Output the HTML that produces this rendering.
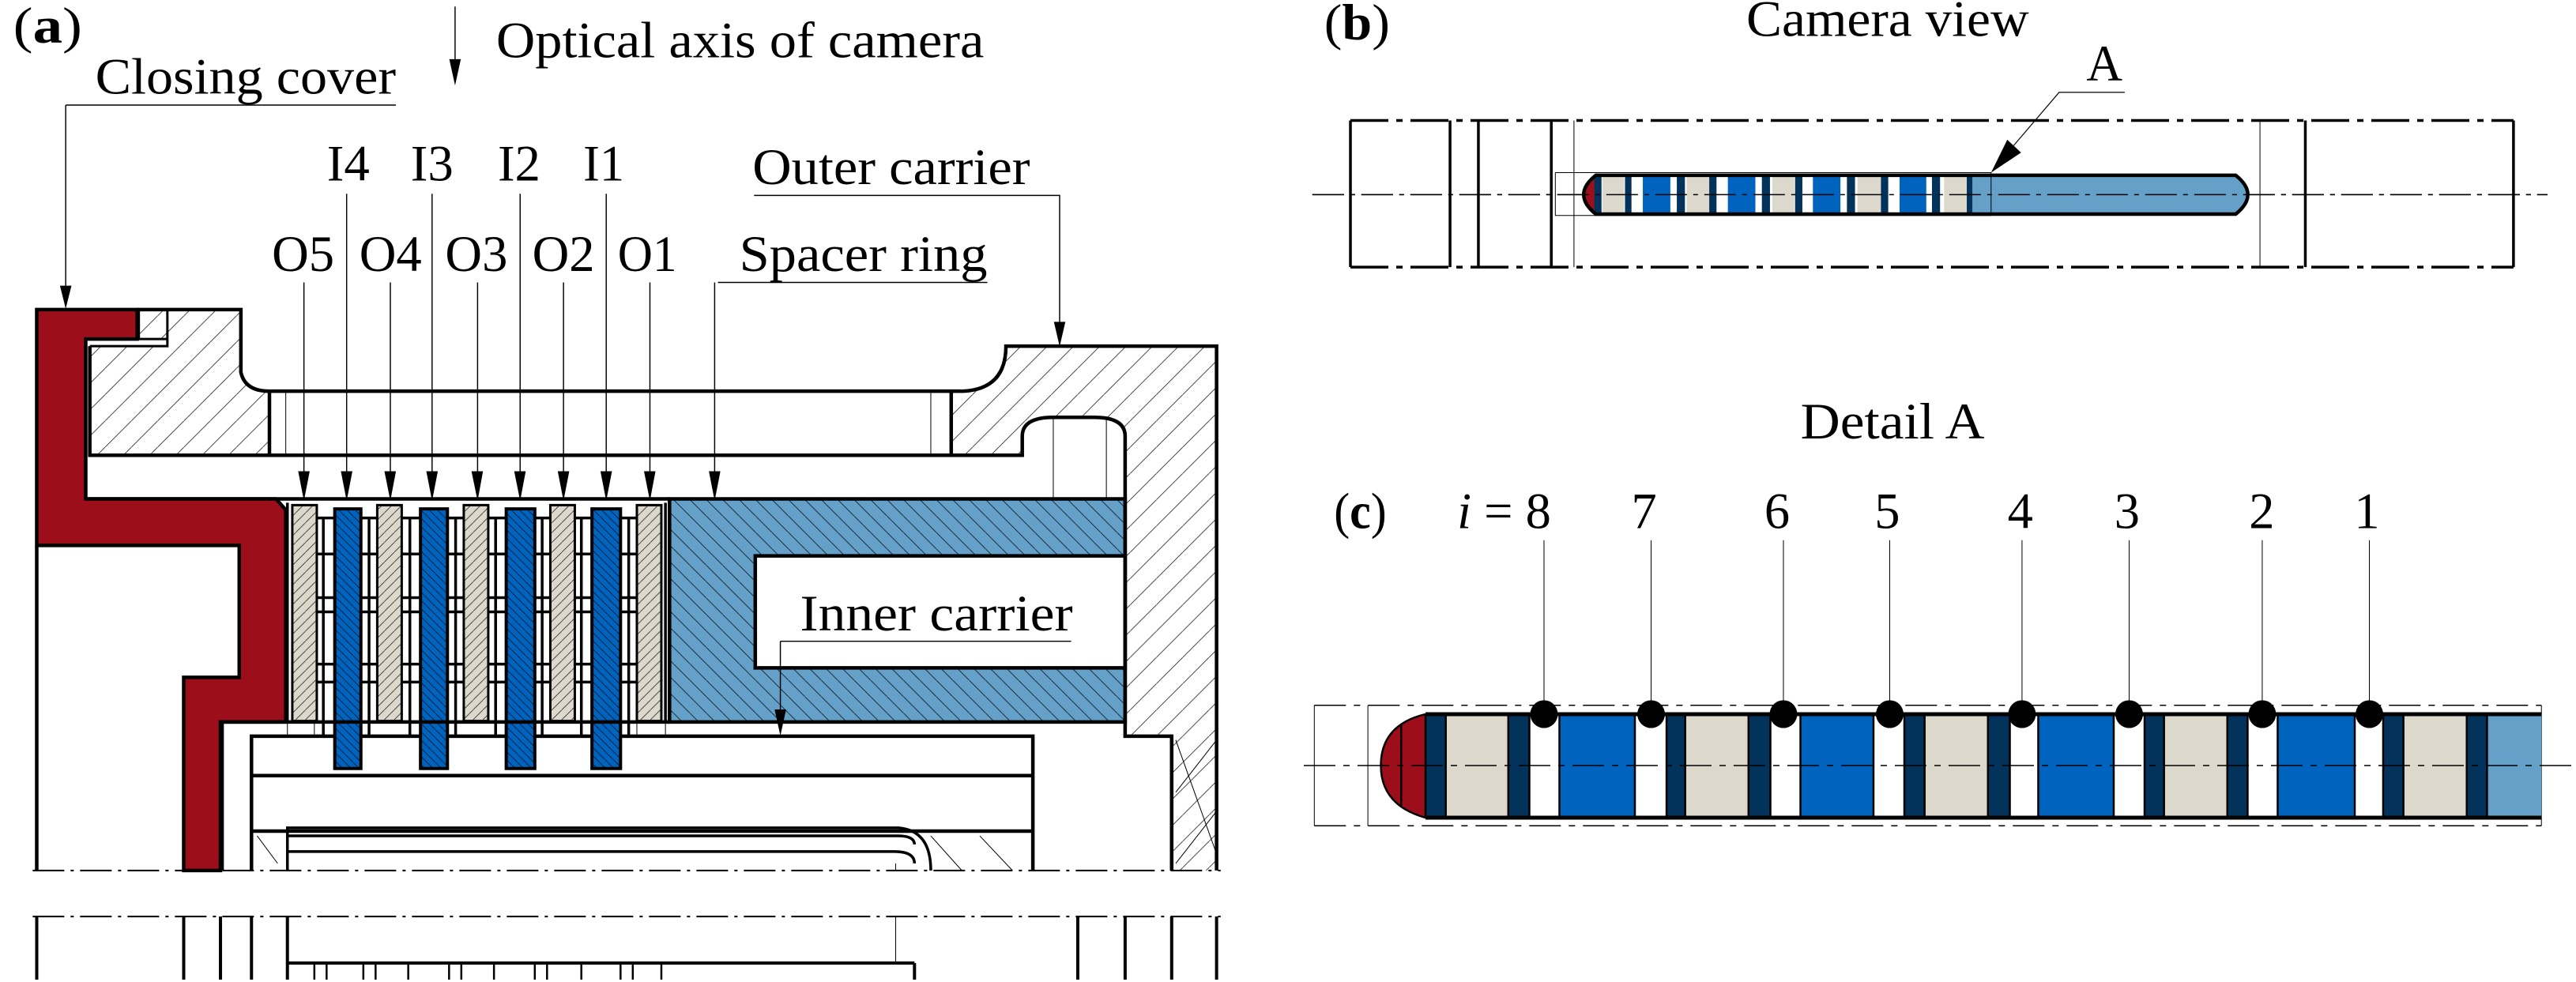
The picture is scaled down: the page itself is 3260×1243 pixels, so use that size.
<!DOCTYPE html>
<html><head><meta charset="utf-8"><style>
html,body{margin:0;padding:0;background:#fff;}
svg{display:block;}
text{font-family:"Liberation Serif",serif;fill:#000;}
</style></head><body>
<svg width="3260" height="1243" viewBox="0 0 1568 598" preserveAspectRatio="none" xmlns="http://www.w3.org/2000/svg">
<defs>
<pattern id="h1" patternUnits="userSpaceOnUse" width="16" height="16" patternTransform="scale(2.012,3.46)">
<line x1="0" y1="16" x2="16" y2="0" stroke="#000" stroke-width="0.35"/>
</pattern>
<pattern id="hb" patternUnits="userSpaceOnUse" width="10" height="10" patternTransform="scale(2.012,3.46)">
<rect width="10" height="10" fill="#64a0c8"/>
<line x1="0" y1="0" x2="10" y2="10" stroke="#000" stroke-width="0.35"/>
</pattern>
<pattern id="hd" patternUnits="userSpaceOnUse" width="5" height="5" patternTransform="scale(2.012,3.46)">
<rect width="5" height="5" fill="#0064be"/>
<line x1="0" y1="0" x2="5" y2="5" stroke="#000" stroke-width="0.3"/>
</pattern>
<pattern id="hg" patternUnits="userSpaceOnUse" width="6" height="6" patternTransform="scale(2.012,3.46)">
<rect width="6" height="6" fill="#dcd8cc"/>
<line x1="0" y1="6" x2="6" y2="0" stroke="#000" stroke-width="0.3"/>
</pattern>
<clipPath id="capb"><path d="M360,655 H1150 Q1180,727 1150,800 H360 Q330,727 360,655 Z"/></clipPath>
</defs>

<!-- ============ PANEL A (zoom1 coords) ============ -->
<g transform="translate(0,144.3) scale(0.497,0.289)" fill="none" stroke="#000">
 <g vector-effect="non-scaling-stroke">
 <!-- outer carrier hatched regions -->
 <path d="M205,153 H295 V285 Q300,325 330,325 V460 H110 V230 H205 Z" fill="url(#h1)" stroke="none"/>
 <path d="M1180,325 Q1232,320 1232,230 H1490 V1335 H1435 V1052 H1378 V420 Q1378,380 1340,380 H1290 Q1252,380 1252,420 V460 H1165 V325 Z" fill="url(#h1)" stroke="none"/>
 <!-- spacer ring -->
 <path d="M820,552 H1378 V1022 H820 Z M925,672 V908 H1378 V672 Z" fill="url(#hb)" fill-rule="evenodd" stroke="none"/>
 <path d="M820,552 H1378 V1022 H820 Z" vector-effect="non-scaling-stroke" stroke-width="4.5"/>
 <rect x="925" y="672" width="453" height="236" fill="#fff" vector-effect="non-scaling-stroke" stroke-width="4.5"/>
 <!-- outlines -->
 <path d="M168,153 H295 V285 Q300,325 330,325 H1180 Q1232,320 1232,230 H1490 V1335" vector-effect="non-scaling-stroke" stroke-width="4.5"/>
 <path d="M110,230 H205 V153 M170,153 V215 H205" vector-effect="non-scaling-stroke" stroke-width="3"/>
 <rect x="170" y="155" width="35" height="60" fill="url(#h1)" stroke="none"/>
 <path d="M110,230 V460 H1252 V420 Q1252,380 1290,380 H1340 Q1378,380 1378,420 V1052 H1435 V1335" vector-effect="non-scaling-stroke" stroke-width="4.5"/>
 <path d="M330,325 V460 M1165,325 V460" vector-effect="non-scaling-stroke" stroke-width="4.5"/>
 <path d="M350,325 V460 M1140,325 V460 M1290,380 V552 M1355,380 V552" vector-effect="non-scaling-stroke" stroke-width="1"/>
 <path d="M105,552 H820" vector-effect="non-scaling-stroke" stroke-width="4.5"/>
 <!-- red closing cover -->
 <path d="M45,153 H168 V215 H105 V552 H338 L350,575 V1022 H270 V1335 H225 V928 H293 V650 H45 Z" fill="#9b0e1a" vector-effect="non-scaling-stroke" stroke-width="4.5"/>
 <path d="M45,650 V1335" vector-effect="non-scaling-stroke" stroke-width="4.5"/>
 <!-- stack plates -->
 <g vector-effect="non-scaling-stroke" stroke-width="3">
  <path d="M352,1022 V1052 M815,1022 V1052 M385,1022 V1052 M780,1022 V1052" vector-effect="non-scaling-stroke" stroke-width="1"/>
  <rect x="358" y="565" width="30" height="455" fill="url(#hg)" vector-effect="non-scaling-stroke" stroke-width="3"/>
  <rect x="462" y="565" width="30" height="455" fill="url(#hg)" vector-effect="non-scaling-stroke" stroke-width="3"/>
  <rect x="568" y="565" width="30" height="455" fill="url(#hg)" vector-effect="non-scaling-stroke" stroke-width="3"/>
  <rect x="674" y="565" width="30" height="455" fill="url(#hg)" vector-effect="non-scaling-stroke" stroke-width="3"/>
  <rect x="780" y="565" width="30" height="455" fill="url(#hg)" vector-effect="non-scaling-stroke" stroke-width="3"/>
  <path d="M396,592 V1050 M452,592 V1050 M502,592 V1050 M558,592 V1050 M607,592 V1050 M664,592 V1050 M712,592 V1050 M770,592 V1050 M352,560 V1022 M815,560 V1022
   M388,592 H410 M442,592 H462 M492,592 H515 M548,592 H568 M598,592 H620 M655,592 H674 M704,592 H725 M760,592 H780
   M388,668 H410 M442,668 H462 M492,668 H515 M548,668 H568 M598,668 H620 M655,668 H674 M704,668 H725 M760,668 H780
   M388,760 H410 M442,760 H462 M492,760 H515 M548,760 H568 M598,760 H620 M655,760 H674 M704,760 H725 M760,760 H780
   M388,790 H410 M442,790 H462 M492,790 H515 M548,790 H568 M598,790 H620 M655,790 H674 M704,790 H725 M760,790 H780
   M388,900 H410 M442,900 H462 M492,900 H515 M548,900 H568 M598,900 H620 M655,900 H674 M704,900 H725 M760,900 H780
   M388,938 H410 M442,938 H462 M492,938 H515 M548,938 H568 M598,938 H620 M655,938 H674 M704,938 H725 M760,938 H780" vector-effect="non-scaling-stroke" stroke-width="3.5"/>
  <rect x="410" y="573" width="32" height="547" fill="url(#hd)" vector-effect="non-scaling-stroke" stroke-width="4"/>
  <rect x="515" y="573" width="33" height="547" fill="url(#hd)" vector-effect="non-scaling-stroke" stroke-width="4"/>
  <rect x="620" y="573" width="35" height="547" fill="url(#hd)" vector-effect="non-scaling-stroke" stroke-width="4"/>
  <rect x="725" y="573" width="35" height="547" fill="url(#hd)" vector-effect="non-scaling-stroke" stroke-width="4"/>
 </g>
 <!-- inner carrier / lower -->
 <path d="M272,1022 H820 M1378,1022 H1378" vector-effect="non-scaling-stroke" stroke-width="4.5"/>
 <path d="M272,1022 V1335" vector-effect="non-scaling-stroke" stroke-width="4.5"/>
 <path d="M308,1335 V1052 H410 M442,1052 H515 M548,1052 H620 M655,1052 H725 M760,1052 H1265 V1335 M308,1135 H1265 M308,1252 H1265" vector-effect="non-scaling-stroke" stroke-width="4.5"/>
 <path d="M1435,1052 V1335" vector-effect="non-scaling-stroke" stroke-width="4.5"/>
 <path d="M1440,1060 L1490,1300 M1140,1262 L1178,1335 M1200,1262 L1240,1335 M315,1262 L340,1320" vector-effect="non-scaling-stroke" stroke-width="1"/>
 <path d="M1440,1170 L1490,1060 M1440,1320 L1490,1210" vector-effect="non-scaling-stroke" stroke-width="1"/>
 <path d="M352,1335 V1245 H1100 Q1140,1250 1140,1335 M352,1262 H1100 Q1120,1262 1120,1280 M352,1295 H1095 Q1120,1295 1120,1320" vector-effect="non-scaling-stroke" stroke-width="3.5"/>
 <path d="M1097,1335 V1320" vector-effect="non-scaling-stroke" stroke-width="1"/>
 <!-- hatch in outer carrier right lower -->
 <!-- dash-dot lines -->
 <path d="M40,1335 H1495 M40,1432 H1495" vector-effect="non-scaling-stroke" stroke-width="2" stroke-dasharray="40,8,4,8"/>
 <path d="M45,1432 V1565 M225,1432 V1565 M270,1432 V1565 M308,1432 V1565 M352,1432 V1565 M1120,1530 V1565 M1320,1432 V1565 M1378,1432 V1565 M1435,1432 V1565 M1490,1432 V1565 M352,1530 H1120" vector-effect="non-scaling-stroke" stroke-width="4"/>
 <path d="M1097,1432 V1530" vector-effect="non-scaling-stroke" stroke-width="1"/>
 <path d="M385,1530 V1565 M400,1530 V1565 M445,1530 V1565 M460,1530 V1565 M500,1530 V1565 M550,1530 V1565 M565,1530 V1565 M605,1530 V1565 M655,1530 V1565 M670,1530 V1565 M712,1530 V1565 M760,1530 V1565 M775,1530 V1565 M810,1530 V1565" vector-effect="non-scaling-stroke" stroke-width="2.5"/>
 </g>
</g>

<!-- Panel A leaders & text (thumb coords) -->
<g stroke="#000" stroke-width="0.7" fill="none">
 <path d="M277,4 V44"/>
 <path d="M40,64 H241 M40,64 V176"/>
 <path d="M459,119 H645 V200"/>
 <path d="M437,172 H601 M435,172 V294"/>
 <path d="M211,118 V294 M263,118 V294 M316.6,118 V294 M369,118 V294"/>
 <path d="M185,172 V294 M237.6,172 V294 M290.7,172 V294 M343,172 V294 M395.6,172 V294"/>
 <path d="M475,390.5 H652 M475,390.5 V437"/>
</g>
<g fill="#000">
 <path d="M273.5,36 L280.5,36 L277,52 Z"/>
 <path d="M36.5,174 L43.5,174 L40,188 Z"/>
 <path d="M641.5,196 L648.5,196 L645,211 Z"/>
 <path d="M431.5,287 L438.5,287 L435,305 Z"/>
 <path d="M207.5,287 L214.5,287 L211,305 Z"/><path d="M259.5,287 L266.5,287 L263,305 Z"/><path d="M313,287 L320,287 L316.6,305 Z"/><path d="M365.5,287 L372.5,287 L369,305 Z"/>
 <path d="M181.5,287 L188.5,287 L185,305 Z"/><path d="M234,287 L241,287 L237.6,305 Z"/><path d="M287,287 L294,287 L290.7,305 Z"/><path d="M339.5,287 L346.5,287 L343,305 Z"/><path d="M392,287 L399,287 L395.6,305 Z"/>
 <path d="M471.5,432 L478.5,432 L475,448 Z"/>
</g>
<g font-size="31">
 <text x="8" y="26" textLength="42" lengthAdjust="spacingAndGlyphs">(<tspan font-weight="bold">a</tspan>)</text>
 <text x="302" y="35" textLength="297" lengthAdjust="spacingAndGlyphs">Optical axis of camera</text>
 <text x="58" y="57" textLength="183" lengthAdjust="spacingAndGlyphs">Closing cover</text>
 <text x="199" y="110" textLength="26" lengthAdjust="spacingAndGlyphs">I4</text>
 <text x="250" y="110" textLength="26" lengthAdjust="spacingAndGlyphs">I3</text>
 <text x="303" y="110" textLength="26" lengthAdjust="spacingAndGlyphs">I2</text>
 <text x="355" y="110" textLength="25" lengthAdjust="spacingAndGlyphs">I1</text>
 <text x="458" y="112" textLength="169" lengthAdjust="spacingAndGlyphs">Outer carrier</text>
 <text x="165.5" y="165" textLength="38" lengthAdjust="spacingAndGlyphs">O5</text>
 <text x="218.7" y="165" textLength="38" lengthAdjust="spacingAndGlyphs">O4</text>
 <text x="271" y="165" textLength="38" lengthAdjust="spacingAndGlyphs">O3</text>
 <text x="324" y="165" textLength="38" lengthAdjust="spacingAndGlyphs">O2</text>
 <text x="376" y="165" textLength="36" lengthAdjust="spacingAndGlyphs">O1</text>
 <text x="450" y="165" textLength="151" lengthAdjust="spacingAndGlyphs">Spacer ring</text>
 <text x="487" y="384" textLength="166" lengthAdjust="spacingAndGlyphs">Inner carrier</text>
</g>

<!-- ============ PANEL B (zoom2 coords) ============ -->
<g transform="translate(822,0) scale(0.493,0.163) translate(-57,0)" fill="none" stroke="#000">
 <path d="M57,450 H1493 M57,998 H1493" vector-effect="non-scaling-stroke" stroke-width="3.5" stroke-dasharray="48,10,8,10"/>
 <path d="M57,450 V998 M180,450 V998 M215,450 V998 M305,450 V998 M1236,450 V998 M1493,450 V998" vector-effect="non-scaling-stroke" stroke-width="3.5"/>
 <path d="M333,450 V998 M1180,450 V998" vector-effect="non-scaling-stroke" stroke-width="1"/>
 <path d="M10,727 H1535" vector-effect="non-scaling-stroke" stroke-width="1.5" stroke-dasharray="40,8,6,8"/>
 <rect x="310" y="645" width="538" height="160" vector-effect="non-scaling-stroke" stroke-width="1"/>
 <g clip-path="url(#capb)" stroke="none">
  <rect x="330" y="640" width="850" height="170" fill="#fff"/>
  <rect x="330" y="640" width="28" height="170" fill="#9b0e1a"/>
  <rect x="825" y="640" width="360" height="170" fill="#64a0c8"/>
  <rect x="368" y="640" width="27" height="170" fill="#dcd8cc"/>
  <rect x="472" y="640" width="28" height="170" fill="#dcd8cc"/>
  <rect x="578" y="640" width="27" height="170" fill="#dcd8cc"/>
  <rect x="683" y="640" width="29" height="170" fill="#dcd8cc"/>
  <rect x="790" y="640" width="28" height="170" fill="#dcd8cc"/>
  <rect x="418" y="640" width="34" height="170" fill="#0064be"/>
  <rect x="523" y="640" width="34" height="170" fill="#0064be"/>
  <rect x="628" y="640" width="34" height="170" fill="#0064be"/>
  <rect x="735" y="640" width="33" height="170" fill="#0064be"/>
  <g fill="#03325a">
   <rect x="358" y="640" width="9" height="170"/><rect x="396" y="640" width="8" height="170"/><rect x="460" y="640" width="10" height="170"/>
   <rect x="500" y="640" width="9" height="170"/><rect x="565" y="640" width="10" height="170"/><rect x="606" y="640" width="9" height="170"/>
   <rect x="670" y="640" width="10" height="170"/><rect x="712" y="640" width="9" height="170"/><rect x="775" y="640" width="10" height="170"/><rect x="818" y="640" width="7" height="170"/>
  </g>
 </g>
 <path d="M360,655 H1150 Q1180,727 1150,800 H360 Q330,727 360,655 Z" vector-effect="non-scaling-stroke" stroke-width="4.5"/>
 <path d="M848,645 V805" vector-effect="non-scaling-stroke" stroke-width="1"/>
 <path d="M10,727 H1535" vector-effect="non-scaling-stroke" stroke-width="1.5" stroke-dasharray="40,8,6,8"/>
 <path d="M860,600 L932,345 H1013" vector-effect="non-scaling-stroke" stroke-width="1.2"/>
 <path d="M848,645 L868,522 L885,570 Z" fill="#000" stroke="none"/>
</g>
<g font-size="31">
 <text x="806" y="24" textLength="40" lengthAdjust="spacingAndGlyphs">(<tspan font-weight="bold">b</tspan>)</text>
 <text x="1063" y="22" textLength="172" lengthAdjust="spacingAndGlyphs">Camera view</text>
 <text x="1270" y="49" textLength="22" lengthAdjust="spacingAndGlyphs">A</text>
 <text x="1096" y="267" textLength="112" lengthAdjust="spacingAndGlyphs">Detail A</text>
 <text x="812" y="321.5" textLength="32" lengthAdjust="spacingAndGlyphs">(<tspan font-weight="bold">c</tspan>)</text>
 <text x="887" y="321.5"><tspan font-style="italic">i</tspan> = 8</text>
 <text x="993" y="321.5">7</text>
 <text x="1074" y="321.5">6</text>
 <text x="1141" y="321.5">5</text>
 <text x="1222" y="321.5">4</text>
 <text x="1287" y="321.5">3</text>
 <text x="1369" y="321.5">2</text>
 <text x="1433" y="321.5">1</text>
</g>

<!-- ============ PANEL C (zoom3 coords) ============ -->
<g transform="translate(793.6,408.8) scale(0.494,0.163)" fill="none" stroke="#000">
 <path d="M13,127 H1525 M13,577 H1525" vector-effect="non-scaling-stroke" stroke-width="1.5" stroke-dasharray="40,10,8,10"/>
 <path d="M13,127 V577 M79,127 V577 M1525,127 V577" vector-effect="non-scaling-stroke" stroke-width="1"/>
 <g stroke="none">
  <path d="M150,160 Q95,200 95,352 Q95,500 150,547 Z" fill="#9b0e1a"/>
  <rect x="150" y="160" width="25" height="387" fill="#03325a"/>
  <rect x="175" y="160" width="77" height="387" fill="#dcd8cc"/>
  <rect x="252" y="160" width="26" height="387" fill="#03325a"/>
  <rect x="315" y="160" width="93" height="387" fill="#0064be"/>
  <rect x="447" y="160" width="23" height="387" fill="#03325a"/>
  <rect x="470" y="160" width="78" height="387" fill="#dcd8cc"/>
  <rect x="548" y="160" width="27" height="387" fill="#03325a"/>
  <rect x="612" y="160" width="90" height="387" fill="#0064be"/>
  <rect x="740" y="160" width="25" height="387" fill="#03325a"/>
  <rect x="765" y="160" width="78" height="387" fill="#dcd8cc"/>
  <rect x="843" y="160" width="27" height="387" fill="#03325a"/>
  <rect x="905" y="160" width="93" height="387" fill="#0064be"/>
  <rect x="1036" y="160" width="24" height="387" fill="#03325a"/>
  <rect x="1060" y="160" width="78" height="387" fill="#dcd8cc"/>
  <rect x="1138" y="160" width="25" height="387" fill="#03325a"/>
  <rect x="1200" y="160" width="95" height="387" fill="#0064be"/>
  <rect x="1330" y="160" width="25" height="387" fill="#03325a"/>
  <rect x="1355" y="160" width="78" height="387" fill="#dcd8cc"/>
  <rect x="1433" y="160" width="25" height="387" fill="#03325a"/>
  <rect x="1458" y="160" width="67" height="387" fill="#64a0c8"/>
 </g>
 <path d="M150,160 Q95,200 95,352 Q95,500 150,547 M120,200 V505 M150,160 V547 M175,160 V547 M252,160 V547 M278,160 V547 M315,160 V547 M408,160 V547 M447,160 V547 M470,160 V547 M548,160 V547 M575,160 V547 M612,160 V547 M702,160 V547 M740,160 V547 M765,160 V547 M843,160 V547 M870,160 V547 M905,160 V547 M998,160 V547 M1036,160 V547 M1060,160 V547 M1138,160 V547 M1163,160 V547 M1200,160 V547 M1295,160 V547 M1330,160 V547 M1355,160 V547 M1433,160 V547 M1458,160 V547" vector-effect="non-scaling-stroke" stroke-width="2.5"/>
 <path d="M150,160 H1525 M150,547 H1525" vector-effect="non-scaling-stroke" stroke-width="5"/>
 <path d="M0,352 H1568" vector-effect="non-scaling-stroke" stroke-width="1.5" stroke-dasharray="40,10,8,10"/>
 <path d="M296,-490 V160 M428,-490 V160 M591,-490 V160 M722,-490 V160 M885,-490 V160 M1017,-490 V160 M1181,-490 V160 M1313,-490 V160" vector-effect="non-scaling-stroke" stroke-width="1"/>
 <g fill="#000" stroke="none">
  <ellipse cx="296" cy="160" rx="17" ry="52"/><ellipse cx="428" cy="160" rx="17" ry="52"/>
  <ellipse cx="591" cy="160" rx="17" ry="52"/><ellipse cx="722" cy="160" rx="17" ry="52"/>
  <ellipse cx="885" cy="160" rx="17" ry="52"/><ellipse cx="1017" cy="160" rx="17" ry="52"/>
  <ellipse cx="1181" cy="160" rx="17" ry="52"/><ellipse cx="1313" cy="160" rx="17" ry="52"/>
 </g>
</g>
</svg>
</body></html>
